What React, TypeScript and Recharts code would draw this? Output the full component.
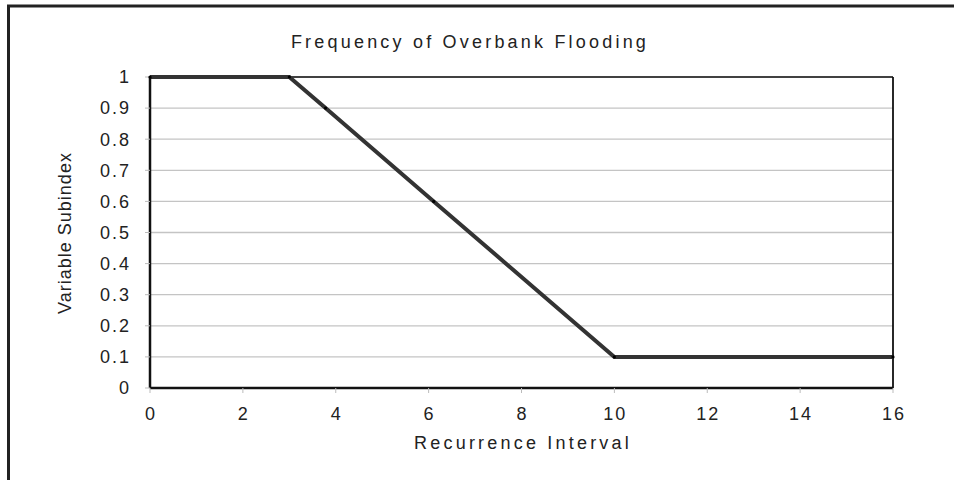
import {
  LineChart,
  Line,
  XAxis,
  YAxis,
  CartesianGrid,
  ReferenceLine,
  Customized,
} from "recharts";

const TITLE = "Frequency of Overbank Flooding";
const X_LABEL = "Recurrence Interval";
const Y_LABEL = "Variable Subindex";

// recurrence interval (years) vs subindex
const intervals = [0, 3, 3.78, 6.11, 10, 16];
const subindex = [1, 1, 0.9, 0.6, 0.1, 0.1];

const xTicks = [0, 2, 4, 6, 8, 10, 12, 14, 16];
const yTicks = [0, 0.1, 0.2, 0.3, 0.4, 0.5, 0.6, 0.7, 0.8, 0.9, 1];

const data = intervals.map((x, i) => ({ x, y: subindex[i] }));

const FONT = "'Liberation Sans', Arial, sans-serif";

function Texts() {
  return (
    <g fontFamily={FONT} fill="#222">
      {/* outer frame, only top and left edges are visible */}
      <path d="M8.5 960 V6 H960" fill="none" stroke="#222" strokeWidth={3} />
      <text x={470} y={48} textAnchor="middle" fontSize={18} letterSpacing={3.2}>
        {TITLE}
      </text>
      <text x={523} y={449} textAnchor="middle" fontSize={18} letterSpacing={3.2}>
        {X_LABEL}
      </text>
      <text
        x={71}
        y={233}
        textAnchor="middle"
        fontSize={18}
        letterSpacing={1}
        transform="rotate(-90 71 233)"
      >
        {Y_LABEL}
      </text>
    </g>
  );
}

export default function App() {
  return (
    <div style={{ position: "fixed", left: 0, top: 0, width: 954, height: 480, background: "#fff" }}>
      <LineChart
        width={954}
        height={480}
        data={data}
        margin={{ top: 77, right: 61, bottom: 52, left: 60 }}
      >
        <CartesianGrid vertical={false} stroke="#c4c4c4" strokeWidth={1.3} />
        <XAxis
          dataKey="x"
          type="number"
          domain={[0, 16]}
          ticks={xTicks}
          height={40}
          axisLine={{ stroke: "#111", strokeWidth: 2.5 }}
          tickLine={{ stroke: "#bbb" }}
          tickSize={5}
          tickMargin={14}
          tick={{ fill: "#222", fontSize: 18, fontFamily: FONT, letterSpacing: 2, dx: 1 }}
        />
        <YAxis
          type="number"
          domain={[0, 1]}
          ticks={yTicks}
          width={90}
          axisLine={{ stroke: "#111", strokeWidth: 2.5 }}
          tickLine={{ stroke: "#bbb" }}
          tickSize={5}
          tickMargin={14}
          tickFormatter={(v: number) => String(Math.round(v * 10) / 10)}
          tick={{ fill: "#222", fontSize: 18, fontFamily: FONT, letterSpacing: 2 }}
        />
        <ReferenceLine y={1} stroke="#111" strokeWidth={1.5} />
        <ReferenceLine x={16} stroke="#111" strokeWidth={1.8} />
        <Line
          dataKey="y"
          type="linear"
          stroke="#333"
          strokeWidth={4}
          dot={{ r: 1.6, fill: "#000", stroke: "none" }}
          isAnimationActive={false}
        />
        <Customized component={Texts} />
      </LineChart>
    </div>
  );
}
